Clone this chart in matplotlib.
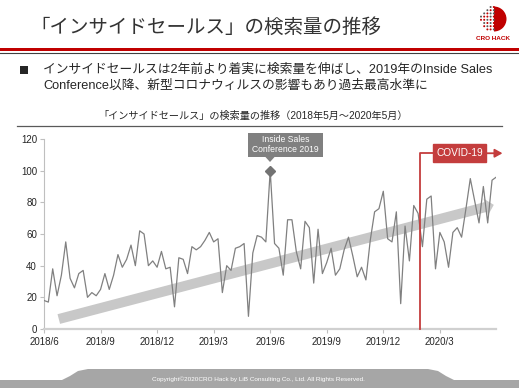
import numpy as np
import matplotlib
matplotlib.use('Agg')
import matplotlib.pyplot as plt
from matplotlib.patches import Polygon, Rectangle, Wedge, Circle

plt.rcParams['font.family'] = ['Liberation Sans', 'Noto Sans CJK JP', 'DejaVu Sans']

# weekly search interest for "インサイドセールス" (peak week = 100), 2018/6 - 2020/5
search_volume = [18, 17, 38, 21, 34, 55, 32, 26, 35, 37,
                 20, 23, 21, 25, 35, 25, 34, 47, 39, 44,
                 53, 40, 62, 60, 40, 43, 39, 49, 38, 39,
                 14, 45, 44, 35, 52, 50, 52, 56, 61, 55,
                 57, 23, 40, 37, 51, 52, 54, 8, 48, 59,
                 58, 55, 100, 54, 51, 34, 69, 69, 49, 38,
                 68, 64, 29, 63, 35, 42, 51, 34, 38, 50,
                 58, 46, 33, 39, 31, 56, 74, 76, 87, 57,
                 55, 74, 16, 65, 43, 78, 73, 52, 82, 84,
                 38, 61, 55, 39, 61, 64, 58, 76, 95, 81,
                 67, 90, 67, 94, 96]

tick_weeks = [0, 13, 26, 39, 52, 65, 78, 91]
tick_labels = ['2018/6', '2018/9', '2018/12', '2019/3', '2019/6', '2019/9', '2019/12', '2020/3']
y_ticks = [0, 20, 40, 60, 80, 100, 120]

conf_week = 52        # Inside Sales Conference 2019
covid_week = 86.4     # COVID-19 marker
trend_start = (3.4, 6.3)
trend_end = (103.4, 78.4)

W, H = 519, 388
fig = plt.figure(figsize=(W / 100, H / 100), dpi=100)
fig.patch.set_facecolor('white')

# main chart axes (pixel box 44..496 x 139..329)
ax = fig.add_axes([44 / W, 1 - 329 / H, 452.4 / W, 190 / H])
weeks = np.arange(len(search_volume))

# trend arrow
ax.annotate('', xy=trend_end, xytext=trend_start,
            arrowprops=dict(arrowstyle='simple,head_length=0.5,head_width=1.05,tail_width=0.6',
                            color='#c8c8c8', mutation_scale=12, shrinkA=0, shrinkB=0, lw=0),
            zorder=1)

ax.plot(weeks, search_volume, color='#808080', lw=0.9, zorder=3)
ax.plot([conf_week], [search_volume[conf_week]], marker='D', ms=5.5, color='#737373', zorder=4)

ax.set_xlim(0, len(search_volume) - 1)
ax.set_ylim(0, 120)
ax.set_xticks(tick_weeks)
ax.set_xticklabels(tick_labels)
ax.set_yticks(y_ticks)
ax.tick_params(axis='both', labelsize=7, colors='#bfbfbf', labelcolor='#262626', length=3, width=0.8)
ax.tick_params(axis='x', pad=2.5)
ax.tick_params(axis='y', pad=2)
for s in ['top', 'right']:
    ax.spines[s].set_visible(False)
ax.spines['left'].set_color('#bfbfbf')
ax.spines['left'].set_linewidth(0.8)
ax.spines['bottom'].set_color('#d0d0d0')
ax.spines['bottom'].set_linewidth(1.6)

# COVID-19 marker (data coords, outside clip)
red = '#c43d3d'
ax.plot([covid_week, covid_week, 89.4], [0, 111, 111], color=red, lw=1.3, clip_on=False, zorder=5)
ax.add_patch(Rectangle((89.4, 105.2), 12.2, 11.8, color=red, clip_on=False, zorder=5))
ax.text(95.5, 111.1, 'COVID-19', color='white', fontsize=7.3, ha='center', va='center',
        clip_on=False, zorder=6)
ax.annotate('', xy=(105.4, 111), xytext=(101.6, 111),
            arrowprops=dict(arrowstyle='-|>,head_length=0.45,head_width=0.25', color=red,
                            lw=1.3, shrinkA=0, shrinkB=0), annotation_clip=False, zorder=5)

# overlay in pixel coordinates for the slide decoration
ov = fig.add_axes([0, 0, 1, 1], zorder=10)
ov.set_xlim(0, W)
ov.set_ylim(H, 0)
ov.axis('off')
ov.patch.set_alpha(0)

# slide title + header rule
ov.text(30, 27, '「インサイドセールス」の検索量の推移', fontsize=14, color='#333333',
        ha='left', va='center')
ov.add_patch(Rectangle((0, 48), W, 2.6, color='#c00000', lw=0))
ov.plot([0, W], [52.6, 52.6], color='#404040', lw=0.8)

# logo
cx, cy = 493, 19
ov.add_patch(Wedge((cx + 1, cy), 12.5, -90, 90, color='#c00000', lw=0))
for gx in np.arange(cx - 12, cx + 1, 3.2):
    for gy in np.arange(cy - 12, cy + 13, 3.2):
        if (gx - cx) ** 2 + (gy - cy) ** 2 < 150:
            col = '#c00000' if (gx + gy) % 2 < 1 else '#595959'
            ov.add_patch(Circle((gx, gy), 1.0, color=col, lw=0))
ov.text(cx, 39, 'CRO HACK', fontsize=4.6, color='#c00000', ha='center', va='center',
        fontweight='bold')

# bullet text
ov.add_patch(Rectangle((20, 66), 7.5, 7.5, color='#262626', lw=0))
ov.text(43, 70, 'インサイドセールスは2年前より着実に検索量を伸ばし、2019年のInside Sales',
        fontsize=9.2, color='#262626', ha='left', va='center')
ov.text(43, 86, 'Conference以降、新型コロナウィルスの影響もあり過去最高水準に',
        fontsize=9.2, color='#262626', ha='left', va='center')

# chart title + rule
ov.text(253, 116, '「インサイドセールス」の検索量の推移（2018年5月～2020年5月）',
        fontsize=7.3, color='#262626', ha='center', va='center')
ov.plot([17, 502], [126, 126], color='#595959', lw=0.9)

# conference callout
gray = '#808080'
ov.add_patch(Rectangle((247.7, 133.3), 75.6, 23.4, color=gray, lw=0))
ov.add_patch(Polygon([(265, 156.5), (275, 156.5), (270, 162)], closed=True, color=gray, lw=0))
ov.text(285.5, 140, 'Inside Sales', fontsize=6.2, color='white', ha='center', va='center')
ov.text(285.5, 150, 'Conference 2019', fontsize=6.2, color='white', ha='center', va='center')

# footer
footer = [(0, 380), (62, 380), (70, 376), (78, 371), (88, 369), (428, 369), (438, 371),
          (446, 376), (454, 380), (W, 380), (W, H), (0, H)]
ov.add_patch(Polygon(footer, closed=True, color='#a6a6a6', lw=0))
ov.text(258, 379, 'Copyright©2020CRO Hack by LiB Consulting Co., Ltd. All Rights Reserved.',
        fontsize=4.6, color='white', ha='center', va='center')

fig.savefig('out.png', dpi=100)
